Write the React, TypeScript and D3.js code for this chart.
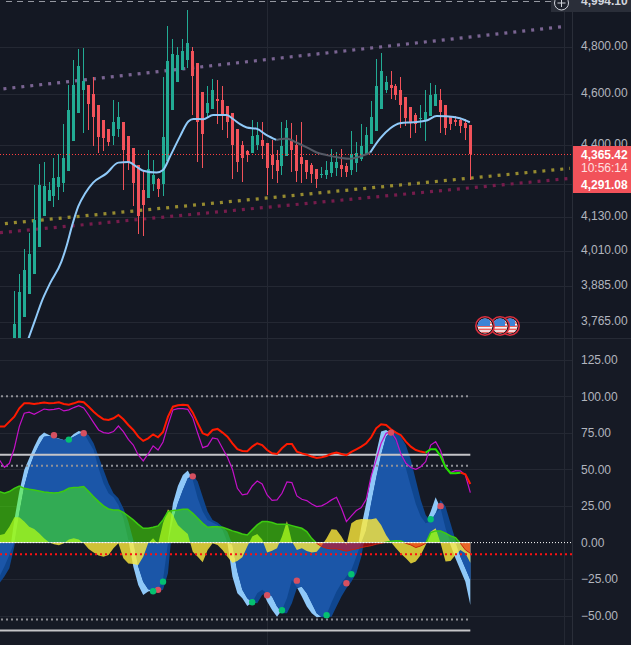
import React from "react";
import * as d3 from "d3";

// candles: open, high, low, close
const candles: number[][] = [
[3660,3864,3640,3752],[3660,3923,3640,3861],[3777,4011,3777,3937],[3854,4068,3854,3993],[3923,4245,3923,4116],
[4018,4324,4018,4245],[4130,4332,4130,4242],[4185,4257,4185,4227],[4204,4348,4163,4271],[4238,4363,4189,4275],
[4253,4481,4219,4348],[4298,4639,4298,4537],[4414,4743,4414,4639],[4525,4790,4525,4718],[4618,4794,4445,4656],
[4639,4639,4457,4561],[4602,4672,4395,4509],[4557,4557,4367,4430],[4497,4497,4375,4426],[4461,4461,4395,4410],
[4434,4577,4399,4489],[4461,4569,4430,4509],[4489,4489,4227,4379],[4434,4434,4302,4328],[4387,4387,4167,4253],
[4320,4320,4065,4130],[4227,4302,4057,4171],[4196,4379,4196,4305],[4249,4340,4223,4283],[4268,4271,4200,4230],
[4249,4672,4204,4430],[4336,4888,4336,4739],[4537,4832,4537,4769],[4652,4798,4652,4765],[4701,4832,4701,4781],
[4743,4958,4709,4815],[4781,4798,4517,4676],[4730,4730,4332,4489],[4610,4610,4309,4441],[4525,4635,4505,4565],
[4541,4664,4541,4618],[4581,4660,4481,4573],[4577,4635,4457,4517],[4553,4553,4426,4489],[4525,4525,4268,4399],
[4461,4461,4294,4332],[4399,4414,4257,4348],[4375,4379,4332,4359],[4367,4497,4367,4434],[4399,4489,4379,4437],
[4418,4489,4344,4395],[4406,4406,4208,4309],[4359,4418,4268,4320],[4340,4379,4253,4298],[4317,4489,4283,4395],
[4356,4497,4356,4465],[4414,4485,4294,4379],[4399,4437,4257,4298],[4352,4489,4253,4324],[4340,4340,4268,4294],
[4320,4328,4253,4287],[4305,4305,4234,4268],[4283,4313,4271,4287],[4283,4336,4268,4302],[4290,4383,4275,4332],
[4309,4371,4279,4332],[4320,4383,4275,4305],[4317,4328,4275,4294],[4302,4453,4283,4363],[4328,4410,4294,4367],
[4344,4481,4336,4395],[4363,4469,4363,4437],[4402,4573,4402,4509],[4453,4747,4453,4635],[4541,4773,4541,4697],
[4618,4676,4606,4652],[4639,4697,4581,4627],[4635,4643,4577,4598],[4618,4672,4465,4557],[4590,4590,4473,4505],
[4549,4549,4426,4485],[4517,4525,4445,4481],[4501,4557,4465,4505],[4497,4618,4414,4529],[4513,4647,4513,4598],
[4553,4639,4553,4602],[4577,4622,4445,4529],[4557,4557,4437,4465],[4513,4513,4457,4481],[4497,4513,4473,4489],
[4497,4505,4445,4473],[4485,4501,4418,4465],[4477,4477,4264,4365],
];

// moving average: [bar position, price]
const maPoints: number[][] = [
[2.8,3702],[4.2,3766],[5.5,3827],[7.2,3890],[9.5,3966],[10.6,4025],[11.6,4091],[12.9,4165],[14.3,4214],[15.9,4254],
[18.6,4289],[21,4330],[23,4332],[24.7,4314],[26,4299],[28.7,4292],[30,4302],[31.4,4353],[33.4,4431],[35.1,4491],
[36.1,4501],[38.1,4500],[40.1,4517],[42.8,4517],[44.2,4500],[45.5,4481],[46.9,4467],[48.9,4462],[50.9,4437],[52.9,4418],
[54.9,4424],[57,4407],[59,4389],[61,4369],[63,4359],[65.7,4349],[67.7,4345],[69.7,4353],[71.8,4369],[73.8,4424],
[75.8,4463],[77.8,4484],[80.5,4488],[83.2,4495],[85.2,4513],[87.2,4512],[89.9,4504],[91.9,4488],
];
const maMutedFrom = 52.9;
const maMutedTo = 71.8;

const trendUpper = [[-2.2,4623],[111.4,4887]];
const trendMiddle = [[-1.9,4102],[112.1,4308]];
const trendLower = [[-2.9,4069],[112.1,4270]];

const lastPrice = 4365.42;
const gridPrices = [4800,4600,4397,4249,4125,4005,3880,3758];
const priceLabels = ["4,800.00","4,600.00","4,400.00","","4,130.00","4,010.00","3,885.00","3,765.00"];

const oscTicks = [125,100,75,50,25,0,-25,-50];
const oscLabels = ["125.00","100.00","75.00","50.00","25.00","0.00","\u221225.00","\u221250.00"];
const oscDotted = [100,52.5,-52.5];
const oscSolid = [60,-60];
const oscRedLevel = -8;

// oscillator series start 3 bars before the first visible candle
const firstBar = -3;
const upperLine = [79.3,79.3,82.7,86.1,91.8,95.2,95.2,94.8,95.2,95.7,95.2,95.4,95.9,94.8,94.3,95.2,96.4,95.9,92.9,89.5,86.6,84.3,83.8,85,87.2,84.3,80.4,77,72.4,69.5,71.3,74,72,75.6,86.1,92.9,93.9,94.3,93.9,88.8,81.6,74.7,73.4,77,77.7,75.2,72.4,67.9,63.8,62.6,62.4,65.6,67.9,66.7,63.3,61,60.6,64.5,67.4,67.4,62.2,61,60.1,58.8,57.9,58.3,59.2,60.8,61.5,60.6,59.7,62,63.8,65.6,67.9,72,78.1,80.9,80.4,77.5,75.2,73.4,69,65.6,63.3,62.2,61.5,63.8,63.8,59.2,51.5,47.4,47.4,47.8,46.7,40.1];
const upperGreenFrom = 83;
const upperGreenTo = 90;
const magentaLine = [56.5,51.5,54.2,64.5,79.3,88.4,89.1,87.7,89.5,91.3,90.7,91.1,91.8,90,90.7,92.3,93.6,92,87.2,82,77,75.2,74.7,75.9,79.7,75.9,70.6,66.7,59.9,55.8,60.6,66.1,63.3,68.8,80.4,90.7,91.6,91.6,91.1,85.4,74.7,64.9,66.1,71.5,70.8,64.5,58.3,50.1,37.1,32.6,33.3,38.7,42.1,40.1,32.6,28.9,29.2,33.7,41.5,41,31.9,29.6,28.7,26.4,24.6,25.1,26.9,29.2,31,23.5,14.4,18.2,21.9,23.9,29.6,45.6,56.5,67.9,74.7,75.9,70.6,60.6,54.2,51.3,50.1,51.9,55.4,66.7,69,62.9,51.5,47.8,49.2,49,46.2,34.2];
const waveFast = [-23.2,-16.4,-8.4,15.5,34.9,49.7,57.6,65.6,72.4,75.2,73.6,72,71.1,70.2,71.1,74.3,76.3,75.2,69,63.3,50.8,40.5,33.7,31,25.7,16.6,1.8,-16.4,-28.9,-35.8,-33.5,-32.8,-32.8,-25.5,1.8,26.9,38.7,46.2,49.2,42.8,30.3,21.2,15.5,13.7,12.1,8.7,-0.5,-23.2,-34.6,-38,-43.3,-41,-34.6,-32.3,-40.3,-46,-50.6,-46,-38,-25.5,-30.5,-36.9,-43.7,-48.3,-51,-50.6,-49.4,-41,-33.5,-27.8,-23.2,-18.7,-9.6,10.9,26.9,45.1,61,75.9,77,74.7,69,62.2,50.8,38.3,26.4,17.8,13.2,21.2,31,23.5,9.8,-1.6,-10.7,-18.7,-26.7,-42.6];
const waveSlow = [-27.8,-23.2,-17.5,-2.7,20,38.3,50.8,59.9,66.7,72.4,72.9,72,70.6,70.2,70.6,72.4,74.3,75.2,73.6,67.9,58.8,49.7,40.5,33.7,30.3,23.5,14.4,1.8,-16.4,-26.7,-31.9,-32.8,-33,-32.3,-21,15.5,26.9,36,44,46.2,41.7,31.4,21.2,15.5,13.7,10.9,7.5,-1.6,-19.8,-32.3,-38,-41,-41.5,-35.8,-34.6,-36.9,-43.7,-48.3,-48.3,-41.5,-31.2,-30.1,-34.6,-41.5,-48.3,-51,-51,-50.6,-43.7,-36.9,-31.2,-26.7,-21,-9.6,8.7,26.9,44,59.9,72.4,76.5,75.9,72.4,66.7,56.5,42.8,29.2,18.9,14.4,20,29.2,24.6,13.2,1.8,-9.6,-17.5,-25.5];
const moneyFlow = [34.9,33.7,34.9,37.1,38.7,37.1,36.4,36,35.3,34.6,34.2,33.9,34.2,35.3,37.1,37.6,37.8,38.3,34.9,31.4,28,25.1,23,22.3,22.3,20.7,18.2,15.5,12.5,9.8,9.8,10.5,11.4,15.5,21.2,21.9,22.3,22.8,22.8,20,16.6,13.2,10.5,10.9,10.9,10.5,9.3,8,7.1,5.9,5.2,8.7,12.1,14.4,14.4,13.7,12.5,12.5,12.5,11.6,10.7,9.8,7.5,2.9,-0.5,-2.7,-3.9,-4.3,-4.3,-5,-5.9,-5,-4.3,-3.4,-2.7,-2.1,-1.1,-0.5,0.2,0.9,1.3,1.1,-0.5,-1.6,-3.4,-2.3,-0.5,6.8,8,8,6.4,4.6,3.4,-0.5,-5,-7.3];
const yellowWave = [5.2,5.9,10.9,17.3,17.3,14.4,10.9,9.3,6.4,2.9,0.2,-1.1,-1.8,-0.5,2.2,2.9,2.2,-0.5,-4.3,-6.8,-8.9,-9.6,-8.4,-3.9,-0.5,-10.7,-14.2,-14.6,-15.3,-9.6,-0.5,2.9,-0.9,13.2,22.8,18.9,12.1,8.7,5.9,-6.2,-9.6,-13.5,-5,-0.5,-1.6,-5,-9.6,-13.7,-12.6,-10,-2.7,4.1,5.9,2.2,-6.8,-5.5,-3.9,4.1,14.8,0.7,-5,-3.9,-5.7,-6.8,-6.2,-2.1,2.9,9.1,8.7,4.1,-1.6,13.2,15.5,16.1,15.9,15.9,16.6,12.1,5.2,0.2,-3.9,-7.7,-10.7,-14.2,-13,-8.4,-1.6,7.5,9.8,-0.5,-13,-12.6,-8.4,-5,-7.3,-13.7];
const redDots = [[8,73.4],[14,74.7],[29,-32.3],[36,45.3],[51,-36],[57,-26],[67,-27.8],[76,75.2],[86,24.9]];
const greenDots = [[11,70.4],[28,-33.3],[30,-26.7],[48,-40.8],[54,-46.2],[63,-49.6],[68,-21.6],[84,16]];
const flagXs = [510, 500, 485];

const W = 631, H = 645, PLOT_R = 572, PANE_Y = 338, LABEL_X = 581;
const BG = "#141823", BG_LOW = "#161a25", GRID = "#242833", AXIS_TEXT = "#b2b5be";
const UP = "#22ab94", DOWN = "#f2525a";
const FONT = "'Liberation Sans', Arial, sans-serif";

const x = d3.scaleLinear().domain([0, 92]).range([14.33, 470.33]);
const y = d3.scaleLog().domain([4800, 3765]).range([46.5, 320.2]);
const v = d3.scaleLinear().domain([0, 100]).range([542.6, 396.3]);

const innerWave = waveFast.map((f, i) => {
  const s = waveSlow[i];
  if (f * s < 0) return 0;
  return Math.abs(f) < Math.abs(s) ? f : s;
});
const seriesLine = (vals: number[], from = -Infinity, to = Infinity) =>
  d3.line<number>().x((_, i) => x(i + firstBar)).y((d) => v(d))
    .defined((_, i) => i + firstBar >= from && i + firstBar <= to)(vals) || "";
const seriesArea = (vals: number[]) =>
  d3.area<number>().x((_, i) => x(i + firstBar)).y0(v(0)).y1((d) => v(d))(vals) || "";
const priceLine = d3.line<number[]>().x((d) => x(d[0])).y((d) => y(d[1])).curve(d3.curveMonotoneX);
const straight = d3.line<number[]>().x((d) => x(d[0])).y((d) => y(d[1]));

function Flag({ cx, cy, id }: { cx: number; cy: number; id: string }) {
  const stripes = d3.range(5);
  return (
    <g>
      <circle cx={cx} cy={cy} r={10} fill="#e0303f" />
      <circle cx={cx} cy={cy} r={8.5} fill="#10131c" />
      <clipPath id={id}><circle cx={cx} cy={cy} r={7.5} /></clipPath>
      <g clipPath={`url(#${id})`}>
        <rect x={cx - 8} y={cy - 8} width={16} height={16} fill="#f4f4f4" />
        {stripes.map((s) => (
          <rect key={s} x={cx - 8} y={cy - 7 + s * 3.2} width={16} height={1.6} fill="#e8625f" />
        ))}
        <rect x={cx - 8} y={cy - 8} width={13} height={8} fill="#3d84d6" />
      </g>
    </g>
  );
}

export default function App() {
  const maMain1 = maPoints.filter((d) => d[0] <= maMutedFrom);
  const maMuted = maPoints.filter((d) => d[0] >= maMutedFrom && d[0] <= maMutedTo);
  const maMain2 = maPoints.filter((d) => d[0] >= maMutedTo);
  const lastY = Math.round(y(lastPrice) + 0.5) + 0.5;
  return (
    <svg width={W} height={H} style={{ position: "absolute", left: 0, top: 0, display: "block" }} fontFamily={FONT}>
      <defs>
        <clipPath id="priceClip"><rect x={0} y={0} width={PLOT_R} height={PANE_Y} /></clipPath>
        <clipPath id="aboveZero"><rect x={0} y={340} width={PLOT_R} height={v(0) - 340} /></clipPath>
        <clipPath id="belowZero"><rect x={0} y={v(0)} width={PLOT_R} height={H - v(0)} /></clipPath>
      </defs>
      <rect width={W} height={H} fill={BG} />
      <rect y={PANE_Y} width={W} height={H - PANE_Y} fill={BG_LOW} />

      {gridPrices.map((p) => (
        <line key={p} x1={0} x2={PLOT_R} y1={Math.round(y(p)) + 0.5} y2={Math.round(y(p)) + 0.5} stroke={GRID} />
      ))}
      {oscTicks.filter((t) => t !== 0).map((t) => (
        <line key={t} x1={0} x2={PLOT_R} y1={Math.round(v(t)) + 0.5} y2={Math.round(v(t)) + 0.5} stroke={GRID} />
      ))}
      <line x1={267.5} x2={267.5} y1={0} y2={H} stroke={GRID} />
      <line x1={564.5} x2={564.5} y1={0} y2={H} stroke={GRID} />

      {/* price pane */}
      <g clipPath="url(#priceClip)">
        <path d={straight(trendUpper) || ""} stroke="#7a6492" strokeWidth={3.2} strokeDasharray="3 6" fill="none" />
        <path d={straight(trendMiddle) || ""} stroke="#968b30" strokeWidth={3.2} strokeDasharray="3 6" fill="none" />
        <path d={straight(trendLower) || ""} stroke="#761c4c" strokeWidth={3.2} strokeDasharray="3 6" fill="none" />
        {candles.map((c, i) => {
          const [o, h, l, cl] = c;
          const col = cl >= o ? UP : DOWN;
          const px = Math.floor(x(i));
          const top = y(Math.max(o, cl));
          const bot = y(Math.min(o, cl));
          return (
            <g key={i} fill={col} shapeRendering="crispEdges">
              <rect x={px} y={y(h)} width={1} height={Math.max(y(l) - y(h), 1)} />
              <rect x={px - 1} y={top} width={3} height={Math.max(bot - top, 1)} />
            </g>
          );
        })}
        <line x1={0} x2={PLOT_R} y1={lastY} y2={lastY} stroke="#ff4040" strokeDasharray="1 2" shapeRendering="crispEdges" />
        <path d={priceLine(maMain1) || ""} stroke="#90caf9" strokeWidth={2} fill="none" />
        <path d={priceLine(maMuted) || ""} stroke="#555a66" strokeWidth={2} fill="none" />
        <path d={priceLine(maMain2) || ""} stroke="#90caf9" strokeWidth={2} fill="none" />
        {flagXs.map((fx, i) => <Flag key={fx} cx={fx} cy={326} id={`flag${i}`} />)}
      </g>

      {/* top dashed high line and badge */}
      <line x1={6} x2={551} y1={1.5} y2={1.5} stroke="#9598a1" strokeDasharray="6 5" />
      <rect x={551} y={0} width={80} height={12} fill="#2a2e39" />

      {/* pane separators */}
      <line x1={0} x2={W} y1={PANE_Y + 0.5} y2={PANE_Y + 0.5} stroke="#262a35" />
      <line x1={PLOT_R + 0.5} x2={PLOT_R + 0.5} y1={0} y2={H} stroke="#2a2e39" />

      {/* oscillator pane */}
      <path d={seriesArea(waveFast)} fill="#8fc8f8" />
      <path d={seriesArea(waveSlow)} fill="#0f468f" />
      <path d={seriesArea(innerWave)} fill="#1b56a8" />
      <path d={seriesArea(yellowWave)} fill="rgba(255,235,59,0.8)" />
      <g clipPath="url(#aboveZero)">
        <path d={seriesArea(moneyFlow)} fill="rgba(74,255,0,0.5)" />
        <path d={seriesLine(moneyFlow)} fill="none" stroke="#3ccb10" strokeWidth={1.5} />
      </g>
      <g clipPath="url(#belowZero)">
        <path d={seriesArea(moneyFlow)} fill="rgba(255,0,0,0.5)" />
        <path d={seriesLine(moneyFlow)} fill="none" stroke="#c8200f" strokeWidth={1} />
      </g>

      {oscDotted.map((t) => (
        <line key={t} x1={1} x2={x(92)} y1={v(t)} y2={v(t)} stroke="#8f9096" strokeWidth={2} strokeDasharray="2 3" />
      ))}
      {oscSolid.map((t) => (
        <line key={t} x1={0} x2={x(92)} y1={v(t)} y2={v(t)} stroke="#c4c4c8" strokeWidth={2} />
      ))}
      <line x1={0} x2={PLOT_R} y1={v(0)} y2={v(0)} stroke="#ffffff" strokeDasharray="1 2" strokeWidth={1} />
      <line x1={0} x2={x(92)} y1={v(0)} y2={v(0)} stroke="#ffffff" strokeWidth={1} opacity={0.75} />
      <line x1={0} x2={PLOT_R} y1={v(oscRedLevel)} y2={v(oscRedLevel)} stroke="#ff1010" strokeWidth={2} strokeDasharray="2 3" />

      <path d={seriesLine(magentaLine)} fill="none" stroke="#c410c8" strokeWidth={1.2} />
      <path d={seriesLine(upperLine, -Infinity, upperGreenFrom)} fill="none" stroke="#ff1a00" strokeWidth={2} />
      <path d={seriesLine(upperLine, upperGreenTo, Infinity)} fill="none" stroke="#ff1a00" strokeWidth={2} />
      <path d={seriesLine(upperLine, upperGreenFrom, upperGreenTo)} fill="none" stroke="#22e000" strokeWidth={2} />
      {redDots.map((d) => <circle key={d[0]} cx={x(d[0])} cy={v(d[1])} r={3.2} fill="#d65060" />)}
      {greenDots.map((d) => <circle key={d[0]} cx={x(d[0])} cy={v(d[1])} r={3.2} fill="#05c070" />)}

      {/* price axis */}
      <g fontSize={12} fill={AXIS_TEXT}>
        {gridPrices.map((p, i) => priceLabels[i] && (
          <text key={p} x={LABEL_X} y={y(p) + 3}>{priceLabels[i]}</text>
        ))}
        {oscTicks.map((t, i) => (
          <text key={t} x={LABEL_X} y={v(t) + 4.3}>{oscLabels[i]}</text>
        ))}
      </g>
      <text x={LABEL_X} y={5} fontSize={12} fontWeight={700} fill="#d1d4dc">4,994.10</text>
      <circle cx={561.5} cy={3} r={7} fill="#1e222d" stroke="#d1d4dc" />
      <path d="M561.5 -1V7M557.5 3H565.5" stroke="#d1d4dc" />

      <rect x={573} y={146} width={58} height={47} fill={DOWN} />
      <g fontSize={12}>
        <text x={LABEL_X} y={158.5} fontWeight={700} fill="#ffffff">{lastPrice.toLocaleString("en-US", { minimumFractionDigits: 2 })}</text>
        <text x={LABEL_X} y={172} fill="#ffe0e0">10:56:14</text>
        <text x={LABEL_X} y={189} fontWeight={700} fill="#ffffff">4,291.08</text>
      </g>
    </svg>
  );
}
